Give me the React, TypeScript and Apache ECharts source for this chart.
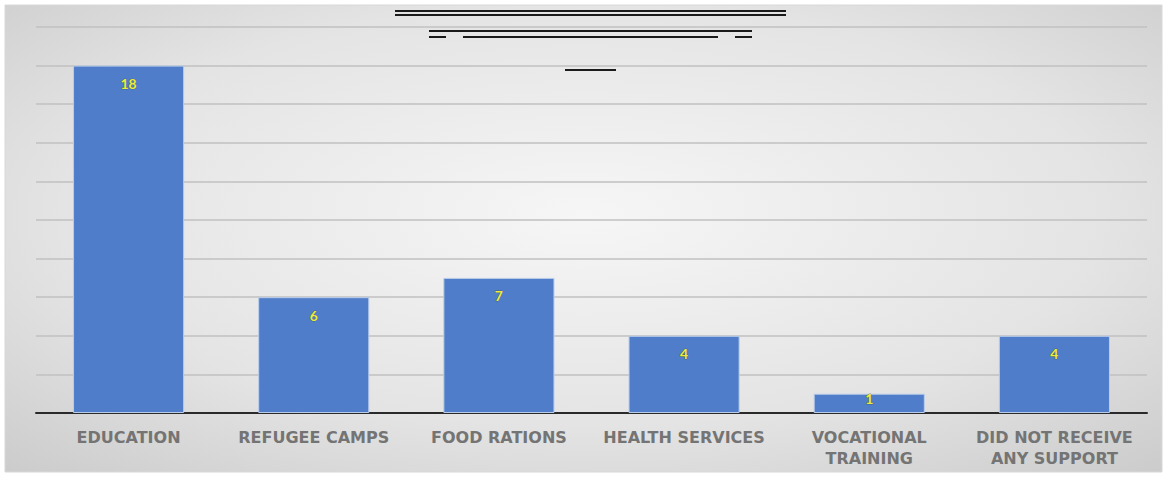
import React, { useEffect, useRef } from "react";
import * as echarts from "echarts";

const categories = [
  "EDUCATION",
  "REFUGEE CAMPS",
  "FOOD RATIONS",
  "HEALTH SERVICES",
  "VOCATIONAL\nTRAINING",
  "DID NOT RECEIVE\nANY SUPPORT",
];
const values = [18, 6, 7, 4, 1, 4];
const yTicks = { min: 0, max: 20, interval: 2 };

// redacted title strokes: [x1, y1, x2, y2]
const titleStrokes: number[][] = [
  [395, 11, 786, 11],
  [395, 15, 786, 15],
  [429, 31, 752, 31],
  [429, 37, 446, 37],
  [463, 37, 718, 37],
  [735, 37, 752, 37],
  [565, 70, 616, 70],
];

export default function App() {
  const ref = useRef<HTMLDivElement>(null);
  useEffect(() => {
    if (!ref.current) return;
    const chart = echarts.init(ref.current, null, { renderer: "svg" });
    chart.setOption({
      animation: false,
      backgroundColor: "#ffffff",
      graphic: [
        {
          type: "rect",
          z: -10,
          silent: true,
          shape: { x: 5, y: 5, width: 1157, height: 467 },
          style: {
            fill: new echarts.graphic.RadialGradient(0.5, 0.45, 0.75, [
              { offset: 0, color: "#f6f6f6" },
              { offset: 0.6, color: "#e4e4e4" },
              { offset: 1, color: "#cbcbcb" },
            ]),
            stroke: "#d8d8d8",
            lineWidth: 1,
          },
        },
        ...titleStrokes.map((s) => ({
          type: "line",
          silent: true,
          shape: { x1: s[0], y1: s[1], x2: s[2], y2: s[3] },
          style: { stroke: "#1a1a1a", lineWidth: 2 },
        })),
      ],
      grid: { left: 36, right: 20, top: 27, bottom: 64 },
      xAxis: {
        type: "category",
        data: categories,
        axisLine: { show: true, lineStyle: { color: "#2a2a2a", width: 2 } },
        axisTick: { show: false },
        axisLabel: {
          color: "#747474",
          fontFamily: "'DejaVu Sans', sans-serif",
          fontSize: 16,
          fontWeight: 600,
          lineHeight: 21,
          margin: 14,
          interval: 0,
        },
      },
      yAxis: {
        type: "value",
        min: yTicks.min,
        max: yTicks.max,
        interval: yTicks.interval,
        axisLabel: { show: false },
        axisLine: { show: false },
        axisTick: { show: false },
        splitLine: { lineStyle: { color: "#c0c0c0", width: 1.5 } },
      },
      series: [
        {
          type: "bar",
          data: values.map((v) =>
            v < 2 ? { value: v, label: { position: "top", distance: -12 } } : v
          ),
          barCategoryGap: "40%",
          itemStyle: { color: "#4f7dc9", borderColor: "#b9cdea", borderWidth: 1 },
          label: {
            show: true,
            position: "insideTop",
            distance: 11,
            color: "#ecec3c",
            fontSize: 14,
            fontWeight: "bold",
            fontFamily: "Lato, sans-serif",
            textBorderColor: "#3a4a2a",
            textBorderWidth: 0.5,
          },
        },
      ],
    });
    return () => chart.dispose();
  }, []);
  return (
    <div
      ref={ref}
      style={{ position: "absolute", left: 0, top: 0, width: 1167, height: 477 }}
    />
  );
}
